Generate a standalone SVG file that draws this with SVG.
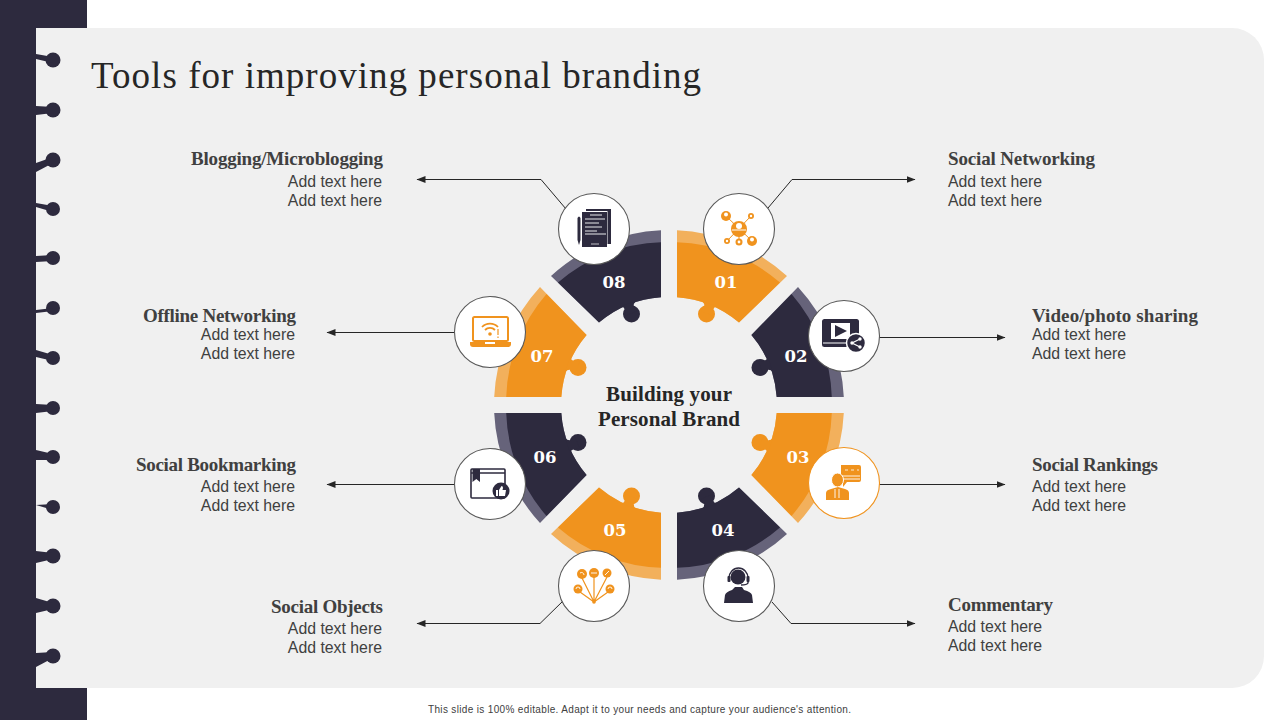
<svg xmlns="http://www.w3.org/2000/svg" xmlns:xlink="http://www.w3.org/1999/xlink" width="1280" height="720" viewBox="0 0 1280 720">
<style>
.ser{font-family:"Liberation Serif","DejaVu Serif",serif}
.san{font-family:"Liberation Sans",Arial,sans-serif}
.h{font-size:19px;font-weight:700;fill:#404040}
.b{font-size:15.84px;fill:#404040}
.e{text-anchor:end}
.n{font-family:"DejaVu Serif","Liberation Serif",serif;font-size:16.5px;font-weight:700;fill:#fff;text-anchor:middle}
.c{font-size:21px;font-weight:700;fill:#262626;text-anchor:middle}
.or .band{fill:#f2b05c}.or .main{fill:#f0931e}
.dk .band{fill:#66637a}.dk .main{fill:#2d2a3e}
.disc{fill:#fff;stroke:#595959;stroke-width:1.1}
.disc.o{stroke:#f0931e}
.fo{fill:#f0931e}.fd{fill:#2d2a3e}.fw{fill:#fff}
.so{stroke:#f0931e;fill:none}.sd{stroke:#2d2a3e;fill:none}.sw{stroke:#fff;fill:none}
.link{fill:none;stroke:#262626;stroke-width:1}
.ring{fill:#2d2a3e}
</style>
<defs>
<marker id="ah" markerUnits="userSpaceOnUse" markerWidth="10" markerHeight="8" refX="8.5" refY="3.5" orient="auto-start-reverse"><path d="M0,0 L9,3.5 L0,7 Z" fill="#262626"/></marker>
<path id="band" d="M8,-174.8 A175,175 0 0 1 118,-129 L70,-82.4 A108,108 0 0 0 8,-107.7 Z"/>
<g id="main">
<path d="M8,-162.8 A165,165 0 0 1 111,-122.5 L70,-82.4 A108,108 0 0 0 8,-107.7 Z"/>
<circle cx="37.5" cy="-91" r="8.5"/>
<path d="M33,-104 Q38,-99 32,-94 L44,-89 Q42,-95 47,-99 Z"/>
</g>
</defs>
<rect width="1280" height="720" fill="#fff"/>
<rect x="0" y="0" width="87" height="720" fill="#2d2a3e"/>
<path d="M36,28 H1232 A32,32 0 0 1 1264,60 V656 A32,32 0 0 1 1232,688 H36 Z" fill="#f0f0f0"/>
<g id="binding">
<g class="ring">
<circle cx="53" cy="60" r="7.5"/><path d="M36,54 L53,57 V63 L36,59 Z"/>
<circle cx="53" cy="110" r="7.5"/><path d="M36,106 L53,107 V113 L36,115 Z"/>
<circle cx="53" cy="160" r="7.5"/><path d="M36,163 L53,157 V163 L36,172 Z"/>
<circle cx="53" cy="209" r="7"/><path d="M36,203 L53,206 V212 L36,207 Z"/>
<circle cx="53" cy="258" r="7"/><path d="M36,256 L53,255 V261 L36,262 Z"/>
<circle cx="53" cy="308" r="7"/><path d="M36,310 L53,308 V311 L36,313 Z"/>
<circle cx="53" cy="358" r="7"/><path d="M36,350 L53,355 V361 L36,357 Z"/>
<circle cx="53" cy="408" r="7"/><path d="M36,404 L53,405 V411 L36,413 Z"/>
<circle cx="53" cy="457" r="7"/><path d="M36,450 L53,454 V460 L36,460 Z"/>
<circle cx="53" cy="507" r="7"/><path d="M36,505 L53,504 V510 Z"/>
<circle cx="53" cy="556" r="7.5"/><path d="M36,551 L53,553 V559 L36,563 Z"/>
<circle cx="53" cy="606" r="7.5"/><path d="M36,598 L53,603 V609 L36,613 Z"/>
<circle cx="53" cy="656" r="7.5"/><path d="M36,653 L53,652 V658 L36,667 Z"/>
</g>
</g>
<text class="ser" x="91" y="88" font-size="37" fill="#262626" textLength="610" lengthAdjust="spacing">Tools for improving personal branding</text>
<g id="connectors">
<path class="link" d="M566,209 L541,179.5 H417" marker-end="url(#ah)"/>
<path class="link" d="M768,208 L792,179.5 H915" marker-end="url(#ah)"/>
<path class="link" d="M879,337.5 H1005" marker-end="url(#ah)"/>
<path class="link" d="M879,484.5 H1005" marker-end="url(#ah)"/>
<path class="link" d="M772,602 L791,623.5 H915" marker-end="url(#ah)"/>
<path class="link" d="M564,600 L540,623.5 H417" marker-end="url(#ah)"/>
<path class="link" d="M454,484.5 H327" marker-end="url(#ah)"/>
<path class="link" d="M454,332.5 H327" marker-end="url(#ah)"/>
</g>
<g id="seg01" class="or" transform="translate(669 405)"><use href="#band" class="band"/><use href="#main" class="main"/></g>
<g id="seg02" class="dk" transform="matrix(0 -1 -1 0 669 405)"><use href="#band" class="band"/><use href="#main" class="main"/></g>
<g id="seg03" class="or" transform="translate(669 405) rotate(90)"><use href="#band" class="band"/><use href="#main" class="main"/></g>
<g id="seg04" class="dk" transform="matrix(1 0 0 -1 669 405)"><use href="#band" class="band"/><use href="#main" class="main"/></g>
<g id="seg05" class="or" transform="translate(669 405) rotate(180)"><use href="#band" class="band"/><use href="#main" class="main"/></g>
<g id="seg06" class="dk" transform="matrix(0 1 1 0 669 405)"><use href="#band" class="band"/><use href="#main" class="main"/></g>
<g id="seg07" class="or" transform="translate(669 405) rotate(270)"><use href="#band" class="band"/><use href="#main" class="main"/></g>
<g id="seg08" class="dk" transform="matrix(-1 0 0 1 669 405)"><use href="#band" class="band"/><use href="#main" class="main"/></g>
<g id="numbers">
<text class="n" x="726" y="288">01</text><text class="n" x="796" y="362">02</text>
<text class="n" x="798" y="463">03</text><text class="n" x="723" y="536">04</text>
<text class="n" x="615" y="536">05</text><text class="n" x="545" y="463">06</text>
<text class="n" x="542" y="362">07</text><text class="n" x="614" y="288">08</text>
</g>
<g id="center" class="ser">
<text class="c" x="669" y="401" textLength="126" lengthAdjust="spacing">Building your</text>
<text class="c" x="669" y="426" textLength="142" lengthAdjust="spacing">Personal Brand</text>
</g>
<g id="node01" transform="translate(739 229)">
<circle class="disc" r="35.5"/>
<path class="so" stroke-width="1" d="M-13,-13 L13,12 M12,-13 L-12,12 M0,0 V13"/>
<circle class="fo" cx="-13" cy="-13" r="5"/><circle class="fo" cx="13" cy="12" r="5"/>
<circle cx="-13" cy="-14.5" r="2" class="fw"/><circle cx="13" cy="10.5" r="2" class="fw"/>
<circle class="fo" cx="12" cy="-13" r="3"/><circle class="fo" cx="-12" cy="12" r="3"/><circle class="fo" cx="0" cy="13" r="3.5"/>
<circle cx="12" cy="-13" r="1.2" class="fw"/><circle cx="-12" cy="12" r="1.2" class="fw"/><circle cx="0" cy="13" r="1.4" class="fw"/>
<circle cx="0" cy="0" r="8" class="fo"/><circle cx="0" cy="-3" r="3" class="fw"/><path class="sw" stroke-width="1" d="M-7,1 H7"/>
</g>
<g id="node02" transform="translate(844 336)">
<circle class="disc" r="35.5"/>
<rect class="fd" x="-22" y="-17" width="37" height="28" rx="2.5"/>
<rect class="fw" x="-13" y="-13" width="19" height="16"/>
<path class="fd" d="M-9,-11 L3,-5 L-9,1 Z"/>
<path class="sw" stroke-width="1" d="M-21,7 H5"/>
<circle class="fd" cx="12" cy="7" r="9.5" stroke="#fff" stroke-width="1.5"/>
<path class="sw" stroke-width="1.2" d="M16,3 L8,7 L16,11"/>
<circle class="fw" cx="16" cy="3" r="1.7"/><circle class="fw" cx="8" cy="7" r="1.7"/><circle class="fw" cx="16" cy="11" r="1.7"/>
</g>
<g id="node03" transform="translate(844 483)">
<circle class="disc o" r="35.5"/>
<path class="fo" d="M-3,-18 H15 Q17,-18 17,-16 V-3 Q17,-1 15,-1 H3 L-1,4 V-1 Q-3,-1 -3,-3 Z"/>
<path class="sw" stroke-width="0.9" d="M-2,-7 H16 M-2,-4 H16"/>
<path class="sw" stroke-width="0.8" d="M1,-13 h3 M7,-13 h3 M13,-13 h2"/>
<ellipse cx="-6.5" cy="-3" rx="6" ry="7" class="fo" stroke="#fff"/>
<path class="fo" d="M-18,17 V10 Q-18,7 -13,6 L-6,4 L1,6 Q5,7 5,10 V17 Z"/>
<path class="sw" stroke-width="0.9" d="M-9,6 V15 M-5,6 V15"/>
</g>
<g id="node04" transform="translate(739 586)">
<circle class="disc" r="35.5"/>
<circle class="fd" cx="-1" cy="-9" r="7.5"/>
<path class="sd" stroke-width="1.4" d="M-10,-8 A9.5,10 0 0 1 9,-8 V-3 Q8,-1 2,-1"/>
<rect class="fd" x="-11.5" y="-10" width="3" height="6" rx="1"/><rect class="fd" x="7.5" y="-10" width="3" height="6" rx="1"/>
<path class="fd" d="M-15,17 L-14,9 Q-13,6 -7,4 L-4,1 H3 L5,4 Q12,6 13,9 L14,17 Z"/>
</g>
<g id="node05" transform="translate(594 586)">
<circle class="disc" r="35.5"/>
<path class="so" stroke-width="1.2" d="M0,16 L-12,-8 M0,16 V-9 M0,16 L13,-9 M0,16 L-14,6 M0,16 L14,6"/>
<circle class="fo" cx="-12" cy="-12" r="5"/><circle class="fo" cx="0" cy="-13" r="5"/><circle class="fo" cx="13" cy="-13" r="4.5"/>
<circle class="fo" cx="-16" cy="3" r="4.5"/><circle class="fo" cx="16" cy="3" r="4.5"/>
<circle class="fo" cx="0" cy="16" r="1.8"/>
<path class="sw" stroke-width="0.9" d="M-14,-13 A2.5,2.5 0 0 1 -10,-11 M-3,-13 H3 M11,-11 L15,-15 M-18,3 A2,2 0 0 1 -14,3 M14,3 A2,2 0 0 1 18,3"/>
</g>
<g id="node06" transform="translate(490 484)">
<circle class="disc" r="35.5"/>
<rect class="sd" stroke-width="1.6" x="-19" y="-15" width="34" height="29" rx="1"/>
<path class="sd" stroke-width="1.6" d="M-19,-11 H15"/>
<path class="fd" d="M-17.5,-15 H-10 V-2 L-13.7,-5 L-17.5,-2 Z"/>
<circle class="fd" cx="11" cy="7" r="8.5"/>
<path class="fw" d="M6,6 H8 V12 H6 Z M9,6 L11.5,2 Q13,2 13,4 L12.5,6 H16 L15,12 H9 Z"/>
</g>
<g id="node07" transform="translate(490 332)">
<circle class="disc" r="35.5"/>
<rect class="so" stroke-width="2" x="-17" y="-15" width="35" height="24" rx="1.5"/>
<path class="fo" d="M-20,10 H21 V12 Q21,15 18,15 H-17 Q-20,15 -20,12 Z"/>
<rect class="fw" x="-5" y="10" width="10" height="2"/>
<path class="so" stroke-width="1.8" d="M-8,-5 A11,11 0 0 1 8,-5 M-5,-2 A7,7 0 0 1 5,-2"/>
<circle class="fo" cx="0" cy="2" r="1.8"/>
<path class="so" stroke-width="1.2" d="M8,-3 V3 M8,4.5 V6"/>
</g>
<g id="node08" transform="translate(594 229)">
<circle class="disc" r="35.5"/>
<rect class="fd" x="-8" y="-20" width="25" height="35"/>
<rect class="fw" x="-13" y="-18" width="26.5" height="37"/>
<rect class="fd" x="-12" y="-17" width="25" height="35"/>
<path class="sw" stroke-width="0.9" d="M-4,-14 H8 M-9,-10 H11 M-9,-6 H5 M-9,-2 H8 M-9,2 H3 M-9,5 H12"/>
<path class="sw" stroke-width="0.7" d="M-3,15 H5"/>
<path class="fd" d="M-16.5,-11 Q-15,-14 -13.5,-11 V11 L-15,16 L-16.5,11 Z"/>
</g>
<g id="labels">
<g><text class="ser h e" x="383" y="165" textLength="192" lengthAdjust="spacing">Blogging/Microblogging</text>
<text class="san b e" x="382" y="186.5">Add text here</text><text class="san b e" x="382" y="205.5">Add text here</text></g>
<g><text class="ser h e" x="296" y="322" textLength="153" lengthAdjust="spacing">Offline Networking</text>
<text class="san b e" x="295" y="340">Add text here</text><text class="san b e" x="295" y="359">Add text here</text></g>
<g><text class="ser h e" x="296" y="471" textLength="160" lengthAdjust="spacing">Social Bookmarking</text>
<text class="san b e" x="295" y="492">Add text here</text><text class="san b e" x="295" y="511">Add text here</text></g>
<g><text class="ser h e" x="383" y="613" textLength="112" lengthAdjust="spacing">Social Objects</text>
<text class="san b e" x="382" y="634">Add text here</text><text class="san b e" x="382" y="653">Add text here</text></g>
<g><text class="ser h" x="948" y="165" textLength="147" lengthAdjust="spacing">Social Networking</text>
<text class="san b" x="948" y="186.5">Add text here</text><text class="san b" x="948" y="205.5">Add text here</text></g>
<g><text class="ser h" x="1032" y="322" textLength="166" lengthAdjust="spacing">Video/photo sharing</text>
<text class="san b" x="1032" y="340">Add text here</text><text class="san b" x="1032" y="359">Add text here</text></g>
<g><text class="ser h" x="1032" y="471" textLength="126" lengthAdjust="spacing">Social Rankings</text>
<text class="san b" x="1032" y="492">Add text here</text><text class="san b" x="1032" y="511">Add text here</text></g>
<g><text class="ser h" x="948" y="611" textLength="105" lengthAdjust="spacing">Commentary</text>
<text class="san b" x="948" y="632">Add text here</text><text class="san b" x="948" y="651">Add text here</text></g>
</g>
<text class="san" x="639.5" y="713" font-size="10" fill="#404040" text-anchor="middle" textLength="423" lengthAdjust="spacing">This slide is 100% editable.  Adapt it to your needs and capture your audience's attention.</text>
</svg>
